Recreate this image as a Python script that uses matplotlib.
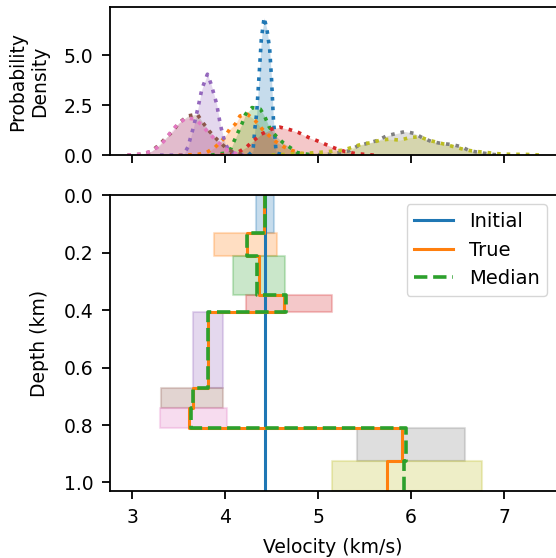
import numpy as np
import matplotlib
matplotlib.use("Agg")
import matplotlib.pyplot as plt

# posterior velocity densities, one curve per layer
blue_v = [4.25, 4.30, 4.32, 4.34, 4.37, 4.39, 4.42, 4.45, 4.48, 4.50, 4.52, 4.55, 4.65]
blue_d = [0.0, 0.2, 1.3, 2.1, 4.3, 5.8, 6.88, 6.3, 5.3, 3.8, 1.8, 0.1, 0.0]
orange_v = [3.50, 3.70, 3.80, 3.89, 3.98, 4.05, 4.11, 4.16, 4.24, 4.32, 4.40, 4.48, 4.54,
            4.61, 4.68, 4.80, 4.95]
orange_d = [0.0, 0.03, 0.13, 0.38, 0.8, 1.3, 1.55, 1.96, 2.05, 1.75, 1.3, 0.95, 0.7,
            0.47, 0.3, 0.1, 0.0]
green_v = [3.85, 4.00, 4.06, 4.09, 4.13, 4.18, 4.22, 4.29, 4.38, 4.43, 4.47, 4.52, 4.57,
           4.63, 4.70, 4.78, 4.95]
green_d = [0.0, 0.1, 0.3, 0.63, 1.05, 1.55, 2.05, 2.38, 2.3, 1.9, 1.45, 1.1, 0.85,
           0.6, 0.38, 0.12, 0.0]
red_v = [3.95, 4.09, 4.16, 4.23, 4.30, 4.39, 4.50, 4.59, 4.70, 4.79, 4.90, 4.99, 5.09,
         5.18, 5.29, 5.40, 5.60]
red_d = [0.0, 0.05, 0.2, 0.4, 0.7, 1.05, 1.3, 1.4, 1.27, 1.13, 0.88, 0.72, 0.52,
         0.35, 0.18, 0.08, 0.0]
purple_v = [3.30, 3.55, 3.60, 3.66, 3.71, 3.75, 3.81, 3.85, 3.91, 3.95, 4.00, 4.05, 4.20]
purple_d = [0.0, 0.0, 0.4, 1.4, 2.4, 3.3, 4.05, 3.55, 2.55, 1.5, 0.6, 0.15, 0.0]
brown_v = [2.95, 3.12, 3.21, 3.30, 3.37, 3.44, 3.50, 3.60, 3.70, 3.76, 3.83, 3.91, 4.00,
           4.10, 4.25]
brown_d = [0.0, 0.05, 0.2, 0.55, 0.9, 1.2, 1.6, 1.96, 2.05, 1.63, 1.2, 0.8, 0.4,
           0.1, 0.0]
pink_v = [2.95, 3.10, 3.21, 3.30, 3.37, 3.43, 3.50, 3.58, 3.68, 3.75, 3.82, 3.91, 3.98,
          4.05, 4.20]
pink_d = [0.0, 0.05, 0.2, 0.48, 0.85, 1.25, 1.58, 1.86, 1.8, 1.5, 1.13, 0.7, 0.42,
          0.15, 0.0]
gray_v = [4.90, 5.13, 5.24, 5.34, 5.43, 5.54, 5.65, 5.74, 5.84, 5.94, 6.04, 6.13, 6.22,
          6.33, 6.44, 6.54, 6.63, 6.74, 6.85, 6.96]
gray_d = [0.0, 0.05, 0.13, 0.22, 0.47, 0.6, 0.75, 0.97, 1.08, 1.18, 1.08, 0.85, 0.68,
          0.58, 0.53, 0.42, 0.22, 0.13, 0.05, 0.0]
olive_v = [4.50, 4.90, 5.05, 5.16, 5.27, 5.36, 5.47, 5.58, 5.67, 5.77, 5.88, 5.99, 6.09,
           6.19, 6.29, 6.40, 6.49, 6.60, 6.71, 6.82, 6.91, 7.00, 7.10, 7.20, 7.30, 7.40]
olive_d = [0.0, 0.1, 0.15, 0.2, 0.25, 0.38, 0.55, 0.63, 0.75, 0.8, 0.75, 0.88, 0.92,
           0.75, 0.63, 0.5, 0.38, 0.25, 0.18, 0.13, 0.08, 0.05, 0.04, 0.04, 0.03, 0.0]

curves = [(blue_v, blue_d), (orange_v, orange_d), (green_v, green_d), (red_v, red_d),
          (purple_v, purple_d), (brown_v, brown_d), (pink_v, pink_d),
          (gray_v, gray_d), (olive_v, olive_d)]

# layered model
layer_top = [0.0, 0.132, 0.212, 0.347, 0.406, 0.670, 0.740, 0.812, 0.924]
layer_bottom = [0.132, 0.212, 0.347, 0.406, 0.670, 0.740, 0.812, 0.924, 1.03]
true_vel = [4.42, 4.24, 4.37, 4.63, 3.82, 3.65, 3.61, 5.90, 5.74]
median_vel = [4.43, 4.24, 4.34, 4.66, 3.82, 3.65, 3.63, 5.95, 5.93]
ci_low = [4.33, 3.88, 4.09, 4.23, 3.65, 3.31, 3.30, 5.42, 5.15]
ci_high = [4.53, 4.56, 4.65, 5.15, 3.98, 3.98, 4.02, 6.58, 6.76]
initial_vel = 4.43

colors = plt.rcParams['axes.prop_cycle'].by_key()['color']

plt.rcParams['font.size'] = 13.5
plt.rcParams['axes.linewidth'] = 1.3
plt.rcParams['xtick.major.width'] = 1.3
plt.rcParams['ytick.major.width'] = 1.3
plt.rcParams['xtick.major.size'] = 5.5
plt.rcParams['ytick.major.size'] = 5.5
plt.rcParams['xtick.major.pad'] = 6.5
plt.rcParams['ytick.major.pad'] = 6.5

fig = plt.figure(figsize=(5.56, 5.58), dpi=100)
ax_pdf = fig.add_axes([0.198, 0.722, 0.802, 0.265])
ax = fig.add_axes([0.198, 0.120, 0.802, 0.530])

xlim = (2.763, 7.56)

for i, (v, d) in enumerate(curves):
    c = colors[i % len(colors)]
    ax_pdf.fill_between(v, d, 0, color=c, alpha=0.25, linewidth=0)
    ax_pdf.plot(v, d, ':', color=c, lw=2.6)
ax_pdf.set_xlim(*xlim)
ax_pdf.set_ylim(0, 7.4)
ax_pdf.set_yticks([0.0, 2.5, 5.0])
ax_pdf.set_yticklabels(['0.0', '2.5', '5.0'])
ax_pdf.set_xticks([3, 4, 5, 6, 7])
ax_pdf.set_xticklabels([])
ax_pdf.set_ylabel('Probability\nDensity')
ax_pdf.spines['right'].set_visible(False)

for i in range(len(layer_top)):
    c = colors[i % len(colors)]
    ax.fill_betweenx([layer_top[i], layer_bottom[i]], ci_low[i], ci_high[i],
                     color=c, alpha=0.25, lw=1.5)

depth_steps = np.ravel(np.column_stack([layer_top, layer_bottom]))
ax.plot([initial_vel, initial_vel], [0, layer_bottom[-1]], color=colors[0],
        lw=2.2, label='Initial')
ax.plot(np.repeat(true_vel, 2), depth_steps, color=colors[1], lw=2.2, label='True')
ax.plot(np.repeat(median_vel, 2), depth_steps, '--', color=colors[2], lw=2.6,
        label='Median')

ax.set_xlim(*xlim)
ax.set_ylim(1.03, 0)
ax.set_xticks([3, 4, 5, 6, 7])
ax.set_yticks([0.0, 0.2, 0.4, 0.6, 0.8, 1.0])
ax.set_xlabel('Velocity (km/s)', labelpad=8)
ax.set_ylabel('Depth (km)')
ax.spines['right'].set_visible(False)
ax.legend(loc='upper right', fontsize=14, borderaxespad=0.45)

# align both y labels the way the reference has them
ax_pdf.yaxis.set_label_coords(-0.137, 0.5)
ax.yaxis.set_label_coords(-0.137, 0.5)

fig.savefig('out.png', dpi=100)
